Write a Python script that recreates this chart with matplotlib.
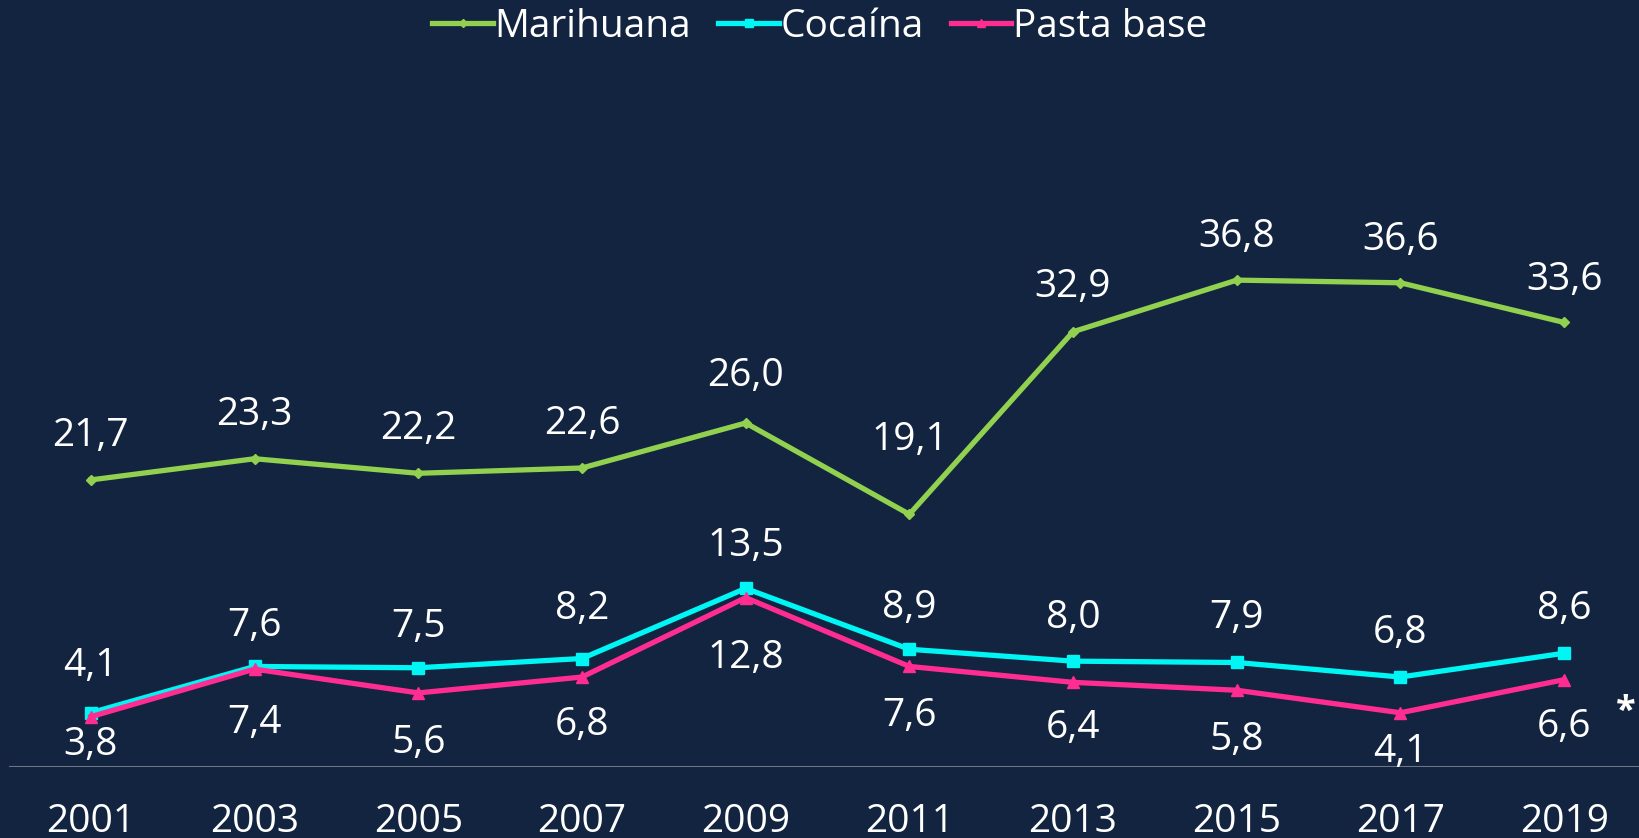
import matplotlib
matplotlib.use("Agg")
import matplotlib.pyplot as plt

years = ["2001", "2003", "2005", "2007", "2009", "2011", "2013", "2015", "2017", "2019"]
marihuana = [21.7, 23.3, 22.2, 22.6, 26.0, 19.1, 32.9, 36.8, 36.6, 33.6]
cocaina = [4.1, 7.6, 7.5, 8.2, 13.5, 8.9, 8.0, 7.9, 6.8, 8.6]
pasta_base = [3.8, 7.4, 5.6, 6.8, 12.8, 7.6, 6.4, 5.8, 4.1, 6.6]

BG = "#12243F"
FONT = ["Open Sans", "DejaVu Sans"]
plt.rcParams['font.family'] = FONT

W, H = 1640, 838
fig = plt.figure(figsize=(W / 100, H / 100), dpi=100, facecolor=BG)
ymax = 50
px_per_unit = 13.23
zero_y = 767
left = 9
right = 1646
ax = fig.add_axes([left / W, (H - zero_y) / H, (right - left) / W, ymax * px_per_unit / H])
ax.set_facecolor(BG)
x = list(range(len(years)))

series = [
    ("Marihuana", marihuana, "#92D050", "D", 5),
    ("Cocaína", cocaina, "#00F5F5", "s", 8),
    ("Pasta base", pasta_base, "#FF2D92", "^", 8),
]
for name, vals, col, mk, ms in series:
    ax.plot(x, vals, color=col, lw=3.8, marker=mk, ms=ms, label=name, zorder=3)

ax.set_xlim(-0.5, len(years) - 0.5)
ax.set_ylim(0, ymax)
for s in ax.spines.values():
    s.set_visible(False)
ax.axhline(0, color="#6B7585", lw=1.5, zorder=2)
ax.set_yticks([])
ax.set_xticks(x)
fs = 28
ax.set_xticklabels(years, color="white", fontsize=fs)
ax.tick_params(axis="x", length=0, pad=26)

def fmt(v):
    return f"{v:.1f}".replace(".", ",")

# label offsets in pixels (vertical)
mar_off = [44, 44, 44, 44, 47, 74, 45, 43, 43, 42]
coc_off = [47, 40, 41, 50, 42, 41, 43, 44, 44, 44]
pb_off = [-28, -54, -50, -48, -60, -50, -46, -50, -39, -47]
for vals, offs in [(marihuana, mar_off), (cocaina, coc_off), (pasta_base, pb_off)]:
    for i, v in enumerate(vals):
        ax.annotate(fmt(v), (i, v), xytext=(0, offs[i]), textcoords="offset pixels",
                    ha="center", va="center", color="white", fontsize=fs, zorder=4)

fig.text(1626 / W, 1 - 712 / H, "*", color="white", fontsize=26, fontweight="bold",
         ha="center", va="center")

leg = fig.legend(loc="center", bbox_to_anchor=(0.5, 1 - 27 / H), ncol=3, frameon=False,
                 fontsize=fs, handlelength=1.55, handletextpad=0.05, columnspacing=0.7,
                 markerscale=0.8)
for t in leg.get_texts():
    t.set_color("white")

fig.savefig("out.png", dpi=100, facecolor=BG)
